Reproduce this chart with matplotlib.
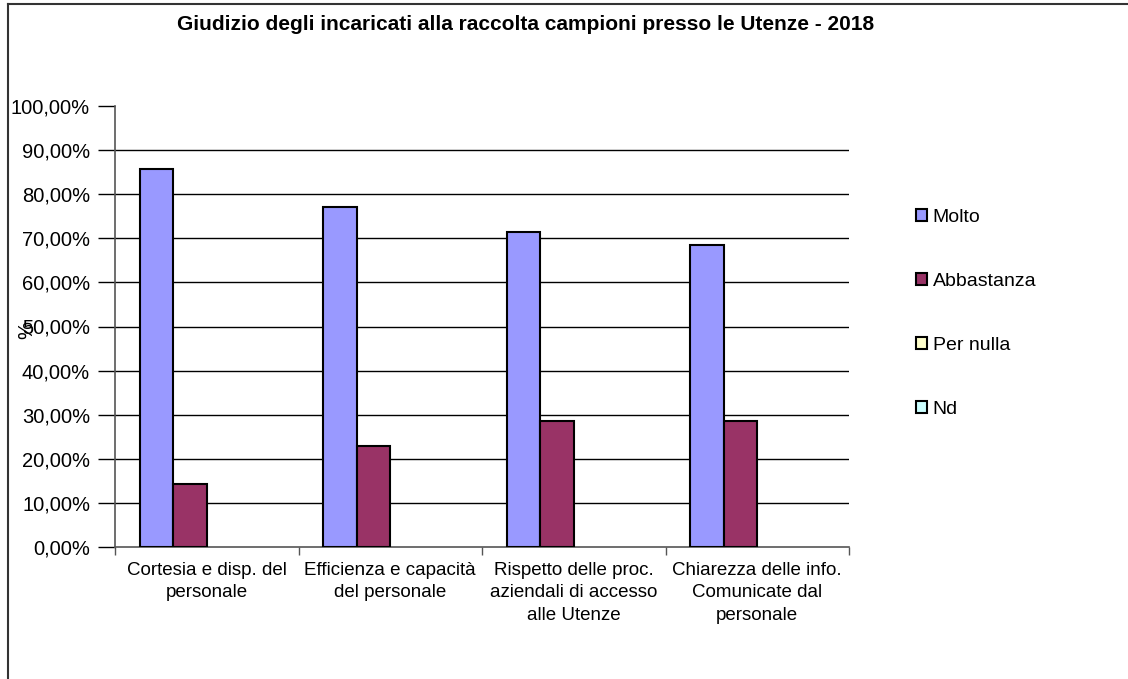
import matplotlib
matplotlib.use("Agg")
import matplotlib.pyplot as plt
from matplotlib.lines import Line2D
from matplotlib.patches import Patch

categories = ["Cortesia e disp. del\npersonale",
              "Efficienza e capacità\ndel personale",
              "Rispetto delle proc.\naziendali di accesso\nalle Utenze",
              "Chiarezza delle info.\nComunicate dal\npersonale"]
series = ["Molto", "Abbastanza", "Per nulla", "Nd"]
molto = [85.71, 77.14, 71.43, 68.57]
abbastanza = [14.29, 22.86, 28.57, 28.57]
per_nulla = [0, 0, 0, 0]
nd = [0, 0, 0, 0]
values = [molto, abbastanza, per_nulla, nd]
colors = ["#9999FF", "#993366", "#FFFFCC", "#CCFFFF"]
yticks = [0, 10, 20, 30, 40, 50, 60, 70, 80, 90, 100]
yticklabels = ["0,00%", "10,00%", "20,00%", "30,00%", "40,00%", "50,00%",
               "60,00%", "70,00%", "80,00%", "90,00%", "100,00%"]
title = "Giudizio degli incaricati alla raccolta campioni presso le Utenze - 2018"

plt.rcParams['font.family'] = ['Liberation Sans', 'DejaVu Sans']

W, H = 1128, 679
fig = plt.figure(figsize=(W / 100, H / 100), dpi=100)
ax = fig.add_axes([115 / W, 1 - 547 / H, (849 - 115) / W, (547 - 106) / H])

w = 0.1826
n = len(series)
for j, (name, vals, c) in enumerate(zip(series, values, colors)):
    xs = [i + 0.5 + (j - (n - 1) / 2) * w for i in range(len(categories))]
    bars = ax.bar(xs, vals, width=w, color=c, edgecolor='black', linewidth=1.5,
                  zorder=3, label=name)
    for b, v in zip(bars, vals):
        if v == 0:
            b.set_linewidth(0)

ax.set_xlim(0, len(categories))
ax.set_ylim(0, 100)

# gridlines (not at the top)
for y in yticks[1:-1]:
    ax.axhline(y, color='black', linewidth=1.0, zorder=1)

ax.set_yticks(yticks)
ax.set_yticklabels(yticklabels, fontsize=14.5)
ax.tick_params(axis='y', direction='out', length=12, width=1, pad=6, colors='black')

ax.set_xticks(range(len(categories) + 1))
ax.set_xticklabels([])
ax.set_xticks([i + 0.5 for i in range(len(categories))], minor=True)
ax.set_xticklabels(categories, minor=True, fontsize=13.5, linespacing=1.4)
ax.tick_params(axis='x', which='major', direction='out', length=6, width=1, color='#555555')
ax.tick_params(axis='x', which='minor', length=0, pad=11)

for s in ['top', 'right']:
    ax.spines[s].set_visible(False)
ax.spines['left'].set_color('#555555')
ax.spines['bottom'].set_color('#555555')
ax.spines['left'].set_linewidth(1.2)
ax.spines['bottom'].set_linewidth(1.2)

fig.text(526 / W, 1 - 25 / H, title, ha='center', va='center',
         fontsize=15, fontweight='bold')
fig.text(27 / W, 1 - 330 / H, "%", rotation=90, ha='center', va='center',
         fontsize=14.5)

# legend
handles = [Patch(facecolor=c, edgecolor='black', linewidth=1.5) for c in colors]
leg = fig.legend(handles, series, loc='upper left',
                 bbox_to_anchor=(916 / W, 1 - 209 / H), frameon=False,
                 fontsize=14, handlelength=0.55, handleheight=0.55,
                 handletextpad=0.3, labelspacing=2.42, borderaxespad=0,
                 borderpad=0)

# outer border (left and top only visible)
fig.add_artist(Line2D([7.5 / W, 7.5 / W], [0, 1 - 4 / H], transform=fig.transFigure,
                      color='#333333', linewidth=1.5))
fig.add_artist(Line2D([7.5 / W, 1], [1 - 4 / H, 1 - 4 / H], transform=fig.transFigure,
                      color='#333333', linewidth=1.5))

fig.savefig("out.png", dpi=100, facecolor='white')
